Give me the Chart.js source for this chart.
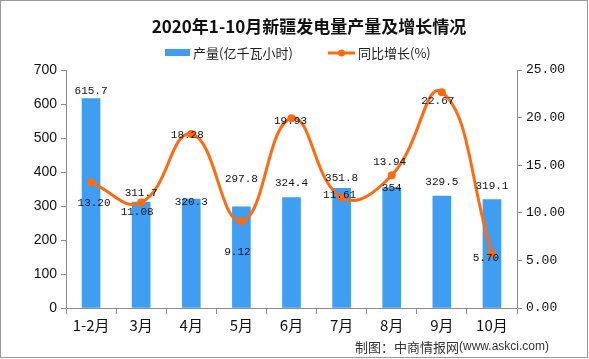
<!DOCTYPE html>
<html><head><meta charset="utf-8">
<script src="https://cdn.jsdelivr.net/npm/chart.js@4/dist/chart.umd.min.js"></script>
<style>html,body{margin:0;padding:0;background:#fff}#wrap{width:589px;height:359px;position:relative}</style>
</head><body><div id="wrap"><canvas id="c" width="589" height="359"></canvas></div>
<script>
const titleText = '2020年1-10月新疆发电量产量及增长情况';
const categories = ['1-2月','3月','4月','5月','6月','7月','8月','9月','10月'];
const outputValues = [615.7, 311.7, 320.3, 297.8, 324.4, 351.8, 354, 329.5, 319.1];
const outputLabels = ['615.7','311.7','320.3','297.8','324.4','351.8','354','329.5','319.1'];
const growthValues = [13.20, 11.08, 18.28, 9.12, 19.93, 11.61, 13.94, 22.67, 5.70];
const growthLabels = ['13.20','11.08','18.28','9.12','19.93','11.61','13.94','22.67','5.70'];
const seriesNames = ['产量(亿千瓦小时)','同比增长(%)'];
const footerText = '制图：中商情报网';
const footerUrl = '(www.askci.com)';

const BLUE = '#3f9ef2', ORANGE = '#ff6a13', AXIS = '#8c8c8c';
// label nudges (style only)
const barLabelDy = [-8,-9,3,-28,-15,-10,0,-14,-13];
const lineLabelD = [[3,21],[-4,10],[-4,1],[-4,31],[-1,3],[-2,-2],[-2,-13],[-4,9],[-6,4]];

const deco = {
  id:'deco',
  beforeDraw(chart){
    const ctx = chart.ctx;
    ctx.save();
    ctx.fillStyle='#fff'; ctx.fillRect(0,0,chart.width,chart.height);
    ctx.restore();
  },
  afterDatasetsDraw(chart){
    const ctx = chart.ctx;
    ctx.save();
    ctx.fillStyle='#111';
    ctx.font='11px "Liberation Mono", "DejaVu Sans Mono", monospace';
    ctx.textAlign='center'; ctx.textBaseline='middle';
    const bm = chart.getDatasetMeta(0).data;
    bm.forEach((el,i)=>{ ctx.fillText(outputLabels[i], el.x, el.y + barLabelDy[i]); });
    const lm = chart.getDatasetMeta(1).data;
    lm.forEach((el,i)=>{ ctx.fillText(growthLabels[i], el.x + lineLabelD[i][0], el.y + lineLabelD[i][1]); });
    ctx.restore();
  },
  afterDraw(chart){
    const ctx = chart.ctx;
    ctx.save();
    // title
    ctx.fillStyle='#111';
    ctx.font='bold 17px "Noto Sans CJK SC", sans-serif';
    ctx.textAlign='center'; ctx.textBaseline='middle';
    ctx.fillText(titleText, 309, 27);
    // legend
    ctx.font='13px "Noto Sans CJK SC", sans-serif';
    ctx.textAlign='left';
    ctx.fillStyle=BLUE; ctx.fillRect(165,49,25,7);
    ctx.fillStyle='#222'; ctx.fillText(seriesNames[0], 193, 53);
    ctx.strokeStyle=ORANGE; ctx.lineWidth=3;
    ctx.beginPath(); ctx.moveTo(328,53); ctx.lineTo(355,53); ctx.stroke();
    ctx.fillStyle=ORANGE; ctx.beginPath(); ctx.arc(341.5,53,3.5,0,Math.PI*2); ctx.fill();
    ctx.fillStyle='#222'; ctx.fillText(seriesNames[1], 358, 53);
    // footer
    ctx.fillStyle='#333';
    ctx.font='13px "Noto Sans CJK SC", sans-serif';
    ctx.fillText(footerText, 355, 347);
    const w = ctx.measureText(footerText).width;
    ctx.font='12px "Liberation Sans", Arial, sans-serif';
    ctx.fillText(footerUrl, 355 + w, 347);
    // border
    ctx.strokeStyle='#999'; ctx.lineWidth=1;
    ctx.strokeRect(0.5,0.5,587,357);
    ctx.restore();
  }
};

new Chart(document.getElementById('c'), {
  data: {
    labels: categories,
    datasets: [
      { type:'bar', label:seriesNames[0], data:outputValues, backgroundColor:BLUE, barThickness:18, yAxisID:'y', order:2 },
      { type:'line', label:seriesNames[1], data:growthValues, borderColor:ORANGE, backgroundColor:ORANGE,
        borderWidth:3, tension:0.45, pointRadius:4, pointBorderWidth:0, pointBackgroundColor:ORANGE, yAxisID:'y1', order:1 }
    ]
  },
  options: {
    responsive:false, animation:false, devicePixelRatio:1,
    layout:{ padding:{ top:70, bottom:21, left:0, right:0 } },
    plugins:{ legend:{display:false}, title:{display:false}, tooltip:{enabled:false} },
    scales:{
      x:{
        offset:true,
        grid:{ offset:true, drawOnChartArea:false, drawTicks:true, tickLength:6, color:AXIS },
        border:{ color:AXIS, width:1 },
        ticks:{ color:'#111', font:{ family:'"Noto Sans CJK SC", sans-serif', size:15 }, padding:2 },
        afterFit(s){ s.height = 30; }
      },
      y:{
        position:'left', min:0, max:700,
        ticks:{ stepSize:100, color:'#111', font:{ family:'"Liberation Sans", Arial, sans-serif', size:14 }, padding:4 },
        grid:{ drawOnChartArea:false, drawTicks:true, tickLength:5, color:AXIS },
        border:{ color:AXIS, width:1 },
        afterFit(s){ s.width = 66; }
      },
      y1:{
        position:'right', min:0, max:25,
        ticks:{ stepSize:5, color:'#111', font:{ family:'"Liberation Mono", "DejaVu Sans Mono", monospace', size:13 }, padding:4,
          callback:(v)=>Number(v).toFixed(2) },
        grid:{ drawOnChartArea:false, drawTicks:true, tickLength:5, color:AXIS },
        border:{ color:AXIS, width:1 },
        afterFit(s){ s.width = 72; }
      }
    }
  },
  plugins:[deco]
});
</script>
</body></html>
